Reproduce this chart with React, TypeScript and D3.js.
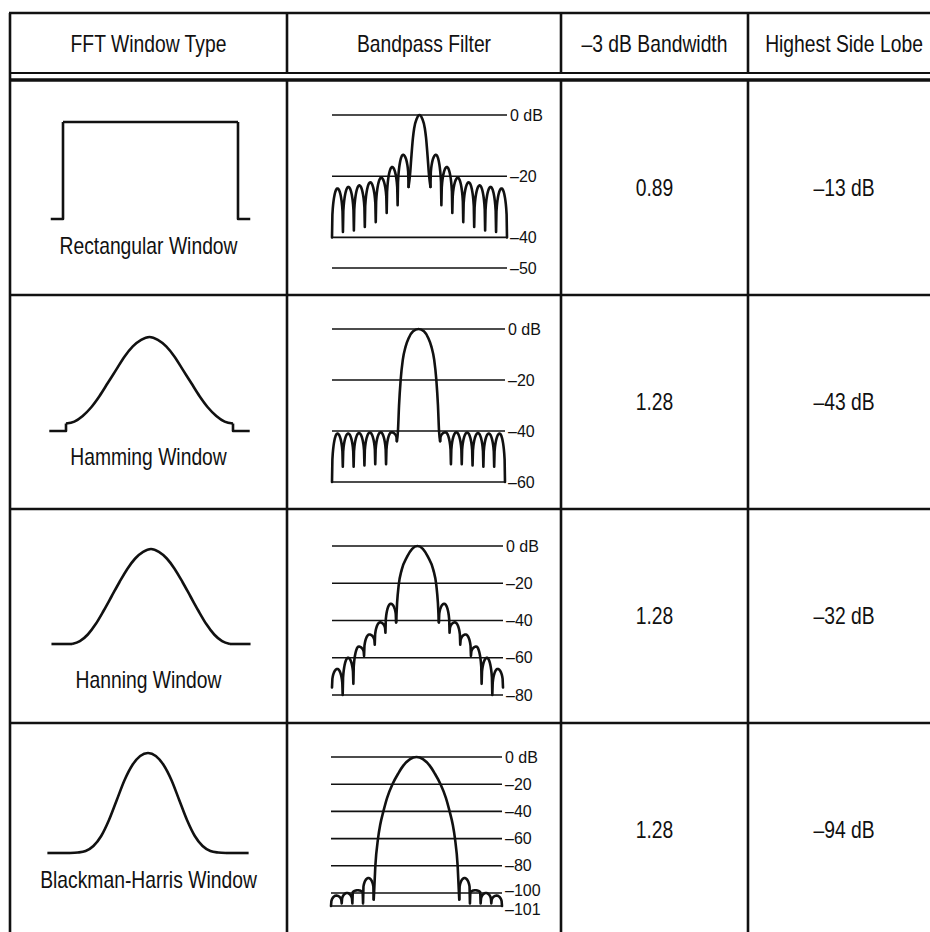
import React from "react";
import * as d3 from "d3";

const W = 930;
const H = 932;
const FONT = "'Liberation Sans', Arial, Helvetica, sans-serif";

// ---------- text content ----------
const headers = ["FFT Window Type", "Bandpass Filter", "–3 dB Bandwidth", "Highest Side Lobe"];
const windowNames = ["Rectangular Window", "Hamming Window", "Hanning Window", "Blackman-Harris Window"];
const bandwidths = ["0.89", "1.28", "1.28", "1.28"];
const highestSideLobes = ["–13 dB", "–43 dB", "–32 dB", "–94 dB"];

// ---------- window shapes (half, from centre outwards, t in window units) ----------
const windowT = [0, 0.05, 0.1, 0.15, 0.2, 0.25, 0.3, 0.35, 0.4, 0.45, 0.5];
const rectValues = [1, 1, 1, 1, 1, 1, 1, 1, 1, 1, 1];
const hammingValues = [1.0, 0.97, 0.9, 0.79, 0.65, 0.51, 0.37, 0.25, 0.16, 0.1, 0.08];
const hanningValues = [1.0, 0.97, 0.9, 0.79, 0.65, 0.5, 0.35, 0.21, 0.1, 0.03, 0];
const blackmanValues = [1.0, 0.97, 0.88, 0.73, 0.53, 0.33, 0.17, 0.07, 0.02, 0.005, 0];
// extent of the drawn zero line on each side (window units)
const windowFoot = [0.57, 0.6, 0.63, 0.645];

// ---------- bandpass responses (bins, dB) ----------
const rectTicks = [0, -20, -40, -50];
const rectTickLabels = ["0 dB", "–20", "–40", "–50"];
const rectMainOffsets = [0, 0.25, 0.49, 0.6, 0.73, 0.88, 1.0];
const rectMainDb = [0, -1.2, -4.4, -7.5, -13, -20, -23.5];
const rectSidePeaks = [-13, -17, -20.5, -22, -23, -23.5, -24];
const rectSideNulls = [-29.5, -32, -35, -36.6, -37.7, -38.2, -40];

const hammingTicks = [0, -20, -40, -60];
const hammingTickLabels = ["0 dB", "–20", "–40", "–60"];
const hammingMainOffsets = [0, 0.5, 0.9, 1.2, 1.45, 1.65, 1.8, 1.9, 2.0];
const hammingMainDb = [0, -0.9, -3.5, -7, -12, -20, -30, -40, -44];
const hammingSidePeaks = [-40.5, -40.5, -40.6, -40.8, -41, -41];
const hammingSideNulls = [-53, -53, -53.5, -54, -54, -60];

const hanningTicks = [0, -20, -40, -60, -80];
const hanningTickLabels = ["0 dB", "–20", "–40", "–60", "–80"];
const hanningMainOffsets = [0, 0.5, 0.97, 1.48, 1.76, 1.91, 2.0];
const hanningMainDb = [0, -1.5, -5.7, -12.8, -21, -30.6, -41];
const hanningSidePeaks = [-31, -41, -47.5, -54, -60, -66];
const hanningSideNulls = [-46.5, -53, -59, -74, -80, -76];

const blackmanTicks = [0, -20, -40, -60, -80, -100, -101];
const blackmanTickLabels = ["0 dB", "–20", "–40", "–60", "–80", "–100", "–101"];
const blackmanMainOffsets = [0, 0.6, 1.2, 1.7, 2.25, 2.75, 3.1, 3.4, 3.6, 3.85, 4.0];
const blackmanMainDb = [0, -1.5, -6, -12, -20, -30, -40, -50, -60, -80, -100.5];
const blackmanSidePeaks = [-89, -98, -100, -100.2];
const blackmanSideNulls = [-100.8, -100.8, -100.8, -101];

const BIN_EXTENT = 8;

// ---------- layout ----------
const colX = [10, 287, 561, 748, 940];
const tableTop = 13;
const headLine1 = 73;
const headLine2 = 80;
const rowY = [80, 295, 509, 723, 937];

const winLayout = [
  { x0: 63, x1: 238, yZero: 219, yTop: 122, labelY: 254 },
  { x0: 66, x1: 233, yZero: 431, yTop: 337, labelY: 465 },
  { x0: 72, x1: 230, yZero: 644, yTop: 549, labelY: 688 },
  { x0: 70, x1: 226, yZero: 853, yTop: 753, labelY: 888 },
];

const bpLayout = [
  { xr: [332, 507], yd: [0, -50], yr: [115, 268], nudge: {} as Record<number, number> },
  { xr: [332, 505], yd: [0, -60], yr: [329, 482], nudge: {} as Record<number, number> },
  { xr: [332, 503], yd: [0, -80], yr: [546, 695], nudge: {} as Record<number, number> },
  { xr: [331, 502], yd: [0, -100, -101], yr: [757, 893, 906], nudge: { [-100]: -3, [-101]: 3 } as Record<number, number> },
];

const windows = [rectValues, hammingValues, hanningValues, blackmanValues];
const bandpass = [
  { ticks: rectTicks, labels: rectTickLabels, mo: rectMainOffsets, md: rectMainDb, sp: rectSidePeaks, sn: rectSideNulls },
  { ticks: hammingTicks, labels: hammingTickLabels, mo: hammingMainOffsets, md: hammingMainDb, sp: hammingSidePeaks, sn: hammingSideNulls },
  { ticks: hanningTicks, labels: hanningTickLabels, mo: hanningMainOffsets, md: hanningMainDb, sp: hanningSidePeaks, sn: hanningSideNulls },
  { ticks: blackmanTicks, labels: blackmanTickLabels, mo: blackmanMainOffsets, md: blackmanMainDb, sp: blackmanSidePeaks, sn: blackmanSideNulls },
];

const INK = "#111";
const TXT_SX = 0.84;

function Txt({ x, y, text, size = 23, sx = TXT_SX, anchor = "middle" }: any) {
  return (
    <text
      transform={`translate(${x},${y}) scale(${sx},1)`}
      textAnchor={anchor}
      fontSize={size}
      fill={INK}
      fontFamily={FONT}
    >
      {text}
    </text>
  );
}

function archPoints(b0: number, b1: number, nIn: number, peak: number, nOut: number, n = 28) {
  const pts: [number, number][] = [];
  for (let i = 0; i <= n; i++) {
    const t = i / n;
    const s = Math.pow(Math.sin(Math.PI * t), 0.35);
    const base = t < 0.5 ? nIn : nOut;
    pts.push([b0 + (b1 - b0) * t, base + (peak - base) * s]);
  }
  return pts;
}

function WindowShape({ i }: { i: number }) {
  const L = winLayout[i];
  const vals = windows[i];
  const xs = d3.scaleLinear().domain([-0.5, 0.5]).range([L.x0, L.x1]);
  const ys = d3.scaleLinear().domain([0, 1]).range([L.yZero, L.yTop]);
  const full: [number, number][] = [];
  for (let k = windowT.length - 1; k >= 1; k--) full.push([-windowT[k], vals[k]]);
  for (let k = 0; k < windowT.length; k++) full.push([windowT[k], vals[k]]);
  const curve = d3
    .line<[number, number]>()
    .x((d) => xs(d[0]))
    .y((d) => ys(d[1]))
    .curve(d3.curveMonotoneX)(full);
  const edge = vals[vals.length - 1];
  const f = windowFoot[i];
  const lin = d3.line<[number, number]>().x((d) => xs(d[0])).y((d) => ys(d[1]));
  const leftFoot = lin([[-f, 0], [-0.5, 0], [-0.5, edge]]);
  const rightFoot = lin([[0.5, edge], [0.5, 0], [f, 0]]);
  return (
    <g fill="none" stroke={INK} strokeWidth={2.6} strokeLinejoin="round" strokeLinecap="butt">
      <path d={curve || ""} />
      <path d={leftFoot || ""} />
      <path d={rightFoot || ""} />
    </g>
  );
}

function Bandpass({ i }: { i: number }) {
  const L = bpLayout[i];
  const D = bandpass[i];
  const xs = d3.scaleLinear().domain([-BIN_EXTENT, BIN_EXTENT]).range(L.xr);
  const ys = d3.scaleLinear().domain(L.yd).range(L.yr);
  const m = D.mo[D.mo.length - 1];
  const mainEnd = D.md[D.md.length - 1];

  const main: [number, number][] = [];
  for (let k = D.mo.length - 1; k >= 1; k--) main.push([-D.mo[k], D.md[k]]);
  for (let k = 0; k < D.mo.length; k++) main.push([D.mo[k], D.md[k]]);
  const mainPath = d3
    .line<[number, number]>()
    .x((d) => xs(d[0]))
    .y((d) => ys(d[1]))
    .curve(d3.curveMonotoneX)(main);

  const right: [number, number][] = [];
  D.sp.forEach((peak, k) => {
    const inner = k === 0 ? mainEnd : D.sn[k - 1];
    const pts = archPoints(m + k, m + k + 1, inner, peak, D.sn[k]);
    if (k > 0) pts.shift();
    right.push(...pts);
  });
  const left = right.map(([b, v]) => [-b, v] as [number, number]).reverse();
  const lin = d3.line<[number, number]>().x((d) => xs(d[0])).y((d) => ys(d[1]));

  const xEnd = L.xr[1];
  return (
    <g>
      {D.ticks.map((t, k) => (
        <line
          key={"l" + k}
          x1={L.xr[0]}
          x2={xEnd}
          y1={ys(t)}
          y2={ys(t)}
          stroke={INK}
          strokeWidth={1.6}
        />
      ))}
      {D.ticks.map((t, k) => (
        <text
          key={"t" + k}
          x={xEnd + 3}
          y={ys(t) + 5.5 + (L.nudge[t] || 0)}
          fontSize={16}
          fontFamily={FONT}
          fill={INK}
        >
          {D.labels[k]}
        </text>
      ))}
      <g fill="none" stroke={INK} strokeWidth={2.6} strokeLinejoin="round" strokeLinecap="round">
        <path d={lin(left) || ""} />
        <path d={mainPath || ""} />
        <path d={lin(right) || ""} />
      </g>
    </g>
  );
}

export default function App() {
  const colCenters = [0, 1, 2, 3].map((c) => (colX[c] + colX[c + 1]) / 2);
  const rowCenters = [0, 1, 2, 3].map((r) => (rowY[r] + rowY[r + 1]) / 2);
  return (
    <svg
      width={W}
      height={H}
      viewBox={`0 0 ${W} ${H}`}
      style={{ position: "absolute", left: 0, top: 0, background: "#fff" }}
    >
      <rect width={W} height={H} fill="#fff" />
      <g stroke={INK} fill="none">
        <line x1={colX[0] - 1} x2={W} y1={tableTop} y2={tableTop} strokeWidth={2.6} />
        <line x1={colX[0]} x2={W} y1={headLine1} y2={headLine1} strokeWidth={2} />
        <line x1={colX[0]} x2={W} y1={headLine2} y2={headLine2} strokeWidth={3.4} />
        {rowY.slice(1, 4).map((y, k) => (
          <line key={"r" + k} x1={colX[0]} x2={W} y1={y} y2={y} strokeWidth={2.6} />
        ))}
        <line x1={colX[0]} x2={colX[0]} y1={tableTop} y2={H} strokeWidth={2.6} />
        {colX.slice(1, 4).map((x, k) => (
          <g key={"c" + k}>
            <line x1={x} x2={x} y1={tableTop} y2={headLine1} strokeWidth={2.6} />
            <line x1={x} x2={x} y1={headLine2} y2={H} strokeWidth={2.6} />
          </g>
        ))}
      </g>
      {headers.map((h, c) => (
        <Txt key={"h" + c} x={colCenters[c]} y={52} text={h} />
      ))}
      {[0, 1, 2, 3].map((r) => (
        <g key={"row" + r}>
          <WindowShape i={r} />
          <Txt x={colCenters[0]} y={winLayout[r].labelY} text={windowNames[r]} />
          <Bandpass i={r} />
          <Txt x={colCenters[2]} y={rowCenters[r] + 8} text={bandwidths[r]} />
          <Txt x={colCenters[3]} y={rowCenters[r] + 8} text={highestSideLobes[r]} />
        </g>
      ))}
    </svg>
  );
}
